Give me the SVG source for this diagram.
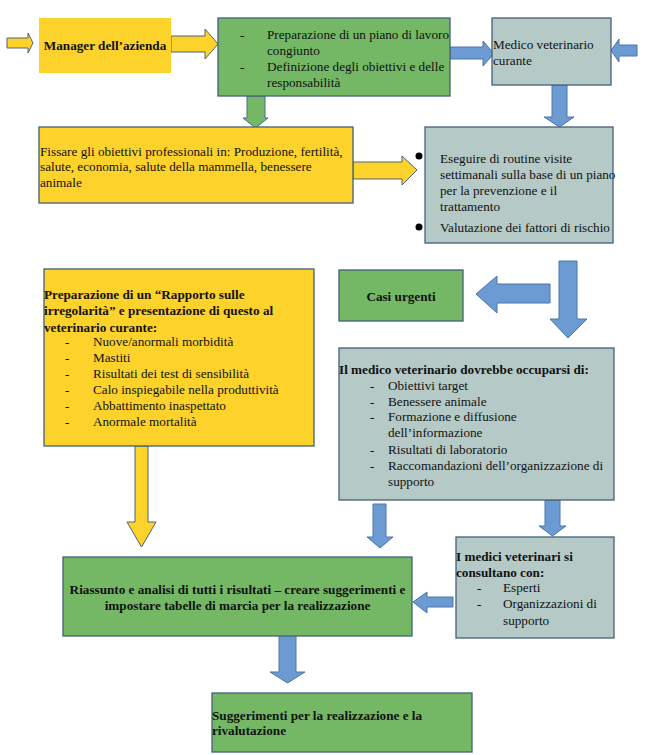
<svg xmlns="http://www.w3.org/2000/svg" width="647" height="755" viewBox="0 0 647 755">
<style>
.t{font-family:"Liberation Serif","Times New Roman",serif;font-size:13.2px;fill:#111}
.b{font-weight:bold}
.y{fill:#FDD22B}
.g{fill:#74B865}
.c{fill:#B5C9C6}
.bx{stroke:#41607C;stroke-width:1.3}
.ay{fill:#FDD22B;stroke:#4C6478;stroke-width:1}
.ag{fill:#74B865;stroke:#4A6E88;stroke-width:1}
.ab{fill:#6C9BD3;stroke:#4A76A8;stroke-width:1}
</style>
<rect width="647" height="755" fill="#fff"/>
<g id="connectors">
<polygon class="ay" points="7,38 28,38 28,33 33,43 28,53 28,48 7,48"/>
<polygon class="ay" points="171,36 205,36 205,29 218,44 205,59 205,52 171,52"/>
<polygon class="ag" points="247,96 265,96 265,118 268,118 255.5,128 243,118 247,118"/>
<polygon class="ab" points="450,47 483,47 483,41 494,53.5 483,66 483,59 450,59"/>
<polygon class="ab" points="637,45 619,45 619,39 611,50.5 619,62 619,56 637,56"/>
<polygon class="ab" points="552,85 567,85 567,117 574,117 559.5,127 544,117 552,117"/>
<polygon class="ay" points="353,162 402,162 402,156 417,170 402,185 402,179 353,179"/>
<polygon class="ab" points="559,261 577,261 577,319 587,319 568,338 550,319 559,319"/>
<polygon class="ab" points="550,284 497,284 497,276 476,294 497,313 497,303 550,303"/>
<polygon class="ay" points="135,446 148,446 148,522 156,522 141.5,547 127,522 135,522"/>
<polygon class="ab" points="373,504 386,504 386,537 393,537 380,548 367,537 373,537"/>
<polygon class="ab" points="545,500 560,500 560,526 566,526 552.5,536 539,526 545,526"/>
<polygon class="ab" points="453,597 427,597 427,592 413,602 427,613 427,607 453,607"/>
<polygon class="ab" points="279,635 296,635 296,672 305,672 287.5,683 270,672 279,672"/>
</g>
<g id="manager">
<rect class="y" x="39" y="18" width="132" height="55"/>
<text class="t b" x="105" y="50" text-anchor="middle">Manager dell’azienda</text>
</g>
<g id="piano">
<rect class="g bx" x="218" y="18" width="232" height="78"/>
<text class="t" x="240" y="39">-</text>
<text class="t" x="267" y="39">Preparazione di un piano di lavoro</text>
<text class="t" x="267" y="55">congiunto</text>
<text class="t" x="240" y="71">-</text>
<text class="t" x="267" y="71">Definizione degli obiettivi e delle</text>
<text class="t" x="267" y="87">responsabilità</text>
</g>
<g id="medico">
<rect class="c bx" x="492" y="18" width="119" height="67"/>
<text class="t" x="493" y="49">Medico veterinario</text>
<text class="t" x="493" y="65">curante</text>
</g>
<g id="fissare">
<rect class="y bx" x="39" y="127" width="314" height="76"/>
<text class="t" x="40" y="156">Fissare gli obiettivi professionali in: Produzione, fertilità,</text>
<text class="t" x="40" y="171">salute, economia, salute della mammella, benessere</text>
<text class="t" x="40" y="187">animale</text>
</g>
<g id="visite">
<rect class="c bx" x="425" y="127" width="188" height="116"/>
<circle cx="419" cy="156" r="3.5" fill="#000"/>
<circle cx="419" cy="227" r="3.5" fill="#000"/>
<text class="t" x="440" y="163">Eseguire di routine visite</text>
<text class="t" x="440" y="179">settimanali sulla base di un piano</text>
<text class="t" x="440" y="195">per la prevenzione e il</text>
<text class="t" x="440" y="211">trattamento</text>
<text class="t" x="440" y="232">Valutazione dei fattori di rischio</text>
</g>
<g id="rapporto">
<rect class="y bx" x="44" y="269" width="270" height="177"/>
<text class="t b" x="44" y="299">Preparazione di un “Rapporto sulle</text>
<text class="t b" x="44" y="315">irregolarità” e presentazione di questo al</text>
<text class="t b" x="44" y="332">veterinario curante:</text>
<text class="t" x="65" y="346">-</text><text class="t" x="93" y="346">Nuove/anormali morbidità</text>
<text class="t" x="65" y="362">-</text><text class="t" x="93" y="362">Mastiti</text>
<text class="t" x="65" y="378">-</text><text class="t" x="93" y="378">Risultati dei test di sensibilità</text>
<text class="t" x="65" y="394">-</text><text class="t" x="93" y="394">Calo inspiegabile nella produttività</text>
<text class="t" x="65" y="410">-</text><text class="t" x="93" y="410">Abbattimento inaspettato</text>
<text class="t" x="65" y="426">-</text><text class="t" x="93" y="426">Anormale mortalità</text>
</g>
<g id="urgenti">
<rect class="g bx" x="339" y="270" width="124" height="51"/>
<text class="t b" x="401" y="301" text-anchor="middle">Casi urgenti</text>
</g>
<g id="occuparsi">
<rect class="c bx" x="339" y="348" width="275" height="152"/>
<text class="t b" x="339" y="374">Il medico veterinario dovrebbe occuparsi di:</text>
<text class="t" x="370" y="390">-</text><text class="t" x="388" y="390">Obiettivi target</text>
<text class="t" x="370" y="406">-</text><text class="t" x="388" y="406">Benessere animale</text>
<text class="t" x="370" y="421">-</text><text class="t" x="388" y="421">Formazione e diffusione</text>
<text class="t" x="388" y="437">dell’informazione</text>
<text class="t" x="370" y="454">-</text><text class="t" x="388" y="454">Risultati di laboratorio</text>
<text class="t" x="370" y="470">-</text><text class="t" x="388" y="470">Raccomandazioni dell’organizzazione di</text>
<text class="t" x="388" y="486">supporto</text>
</g>
<g id="riassunto">
<rect class="g bx" x="63" y="557" width="349" height="79"/>
<text class="t b" x="237.5" y="594" text-anchor="middle">Riassunto e analisi di tutti i risultati – creare suggerimenti e</text>
<text class="t b" x="237.5" y="610" text-anchor="middle">impostare tabelle di marcia per la realizzazione</text>
</g>
<g id="consultano">
<rect class="c bx" x="456" y="537" width="158" height="101"/>
<text class="t b" x="456" y="561">I medici veterinari si</text>
<text class="t b" x="456" y="577">consultano con:</text>
<text class="t" x="477" y="592">-</text><text class="t" x="503" y="592">Esperti</text>
<text class="t" x="477" y="608">-</text><text class="t" x="503" y="608">Organizzazioni di</text>
<text class="t" x="503" y="625">supporto</text>
</g>
<g id="suggerimenti">
<rect class="g bx" x="212" y="693" width="260" height="59"/>
<text class="t b" x="212" y="720">Suggerimenti per la realizzazione e la</text>
<text class="t b" x="212" y="735">rivalutazione</text>
</g>
</svg>
